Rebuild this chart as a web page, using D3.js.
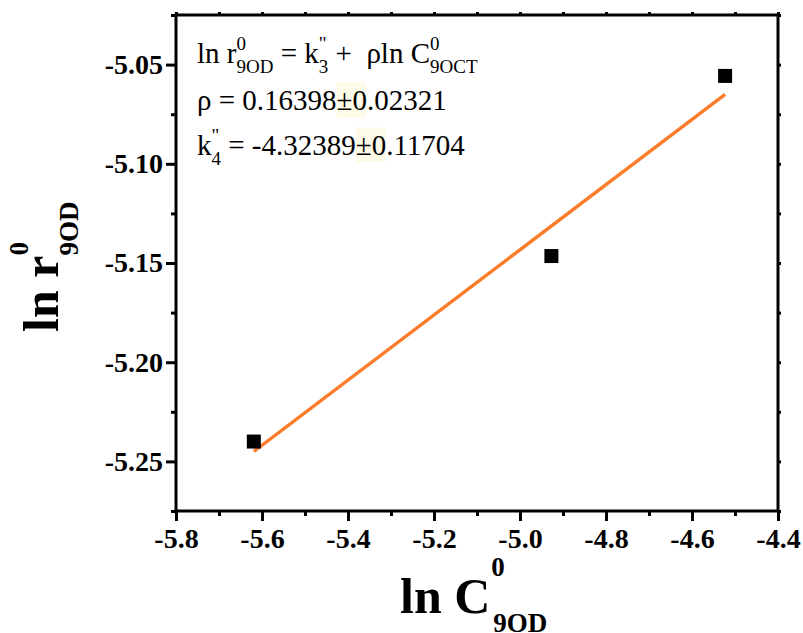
<!DOCTYPE html>
<html>
<head>
<meta charset="utf-8">
<script src="https://cdn.jsdelivr.net/npm/d3@7"></script>
</head>
<body style="margin:0">
<script>
// ---- data ----
const lnC = [-5.619, -4.927, -4.523];
const lnR = [-5.240, -5.1465, -5.0557];
const fitX = [-5.619, -4.523];
const fitY = [-5.245, -5.065];
const xMajorTicks = [-5.8, -5.6, -5.4, -5.2, -5.0, -4.8, -4.6, -4.4];
const xMinorTicks = [-5.7, -5.5, -5.3, -5.1, -4.9, -4.7, -4.5];
const yMajorTicks = [-5.25, -5.20, -5.15, -5.10, -5.05];
const yMinorTicks = [-5.275, -5.225, -5.175, -5.125, -5.075, -5.025];
const xDomain = [-5.8, -4.4];
const yDomain = [-5.275, -5.025];

const FONT = "Liberation Serif";
const W = 803, H = 633;
const L = 176, R = 778, T = 15, B = 511;

const svg = d3.select("body").append("svg").attr("width", W).attr("height", H)
  .style("display", "block");

const x = d3.scaleLinear().domain(xDomain).range([L, R]);
const y = d3.scaleLinear().domain(yDomain).range([B, T]);

function styleAxis(g) {
  g.attr("font-family", FONT).attr("font-size", 28).attr("font-weight", "bold");
  g.select(".domain").remove();
  g.selectAll(".tick line").attr("stroke", "#000").attr("stroke-width", 3);
  g.selectAll(".tick text").attr("fill", "#000").attr("font-family", FONT);
}
const fx = d => d3.format(".1f")(d).replace("\u2212", "-");
const fy = d => d3.format(".2f")(d).replace("\u2212", "-");

// bottom
svg.append("g").attr("transform", `translate(0,${B})`)
  .call(d3.axisBottom(x).tickValues(xMajorTicks).tickSize(10).tickPadding(7).tickFormat(fx))
  .call(styleAxis);
svg.append("g").attr("transform", `translate(0,${B})`)
  .call(d3.axisBottom(x).tickValues(xMinorTicks).tickSize(5).tickFormat(""))
  .call(styleAxis);
// left
svg.append("g").attr("transform", `translate(${L},0)`)
  .call(d3.axisLeft(y).tickValues(yMajorTicks).tickSize(10).tickPadding(3).tickFormat(fy))
  .call(styleAxis);
svg.append("g").attr("transform", `translate(${L},0)`)
  .call(d3.axisLeft(y).tickValues(yMinorTicks).tickSize(5).tickFormat(""))
  .call(styleAxis);
// top / right small ticks
svg.append("g").attr("transform", `translate(0,${T})`)
  .call(d3.axisTop(x).tickValues(xMajorTicks.concat(xMinorTicks)).tickSize(3).tickFormat(""))
  .call(styleAxis);
svg.append("g").attr("transform", `translate(${R},0)`)
  .call(d3.axisRight(y).tickValues(yMajorTicks.concat(yMinorTicks)).tickSize(3).tickFormat(""))
  .call(styleAxis);

// frame
svg.append("rect").attr("x", L).attr("y", T).attr("width", R - L).attr("height", B - T)
  .attr("fill", "none").attr("stroke", "#000").attr("stroke-width", 3);

// fit line
svg.append("path")
  .datum(fitX.map((d, i) => [d, fitY[i]]))
  .attr("d", d3.line().x(d => x(d[0])).y(d => y(d[1])))
  .attr("fill", "none").attr("stroke", "#fb7d2b").attr("stroke-width", 3.5);

// points
const S = 14;
svg.selectAll("rect.pt").data(lnC).enter().append("rect").attr("class", "pt")
  .attr("x", d => x(d) - S / 2).attr("y", (d, i) => y(lnR[i]) - S / 2)
  .attr("width", S).attr("height", S).attr("fill", "#000");

// rich text helper
function txt(g, xx, yy, size, weight, s) {
  return g.append("text").attr("x", xx).attr("y", yy)
    .attr("xml:space", "preserve")
    .attr("font-family", FONT)
    .attr("font-size", size).attr("font-weight", weight).text(s);
}
function rich(g, x0, y0, parts, o) {
  let cx = x0;
  parts.forEach(p => {
    if (typeof p === "string" || p.t !== undefined) {
      const s = typeof p === "string" ? p : p.t;
      const t = txt(g, cx, y0, o.size, o.weight, s);
      const w = t.node().getComputedTextLength();
      if (p.bg) {
        g.insert("rect", ":first-child").attr("x", cx).attr("y", y0 - o.size * 0.95)
          .attr("width", w + 14).attr("height", o.size * 1.2).attr("fill", p.bg);
      }
      cx += w;
    } else {
      let w = 0;
      const supDx = p.supDx || 0, subDx = p.subDx || 0;
      if (p.sup !== undefined) {
        const t = txt(g, cx + supDx, y0 - o.supUp, o.small, o.weight, p.sup);
        w = Math.max(w, supDx + t.node().getComputedTextLength());
      }
      if (p.sub !== undefined) {
        const t = txt(g, cx + subDx, y0 + o.subDown, o.small, o.weight, p.sub);
        w = Math.max(w, subDx + t.node().getComputedTextLength());
      }
      cx += w;
    }
  });
  return cx - x0;
}

// annotation
const ann = svg.append("g");
const aOpt = { size: 29, small: 19, weight: "normal", supUp: 13, subDown: 10 };
rich(ann, 197, 63, ["ln r", { sup: "0", sub: "9OD" }, " = k", { sup: "\"", sub: "3" },
  " +  ρln C", { sup: "0", sub: "9OCT" }], aOpt);
rich(ann, 197, 110, ["ρ = 0.16398", { t: "±", bg: "#fdfbe7" }, "0.02321"], aOpt);
rich(ann, 197, 155, ["k", { sup: "\"", sub: "4" }, " = -4.32389", { t: "±", bg: "#fdfbe7" }, "0.11704"], aOpt);

// axis titles
const xt = svg.append("g");
rich(xt, 400, 613, ["ln C", { sup: "0", sub: "9OD", supDx: 1, subDx: 3 }],
  { size: 50, small: 27, weight: "bold", supUp: 37, subDown: 19 });

const yt = svg.append("g").attr("transform", "translate(58,332) rotate(-90)");
rich(yt, 0, 0, ["ln r", { sup: "0", sub: "9OD" }], { size: 50, small: 27, weight: "bold", supUp: 30, subDown: 20 });
</script>
</body>
</html>
